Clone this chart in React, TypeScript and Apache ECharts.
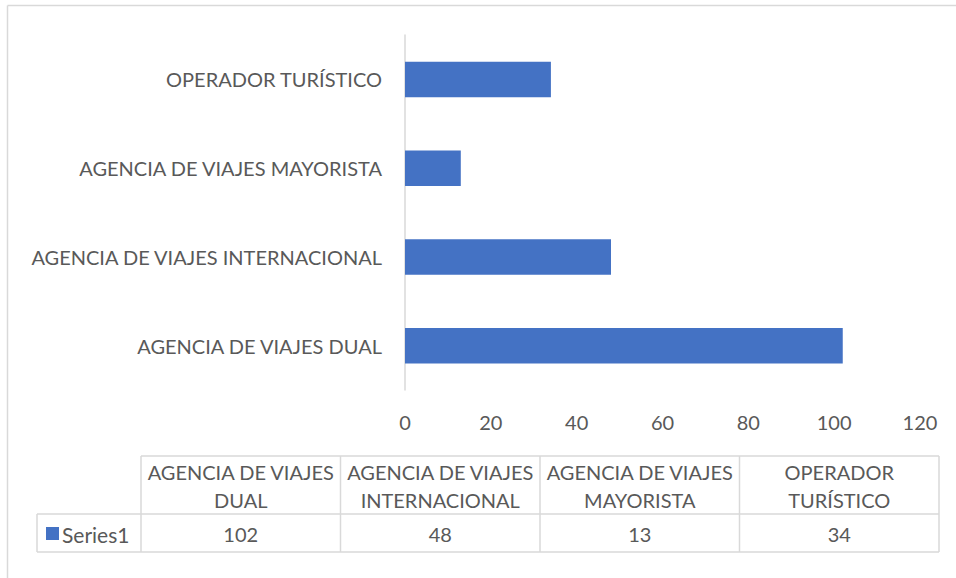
import React, { useEffect, useRef } from 'react';
import * as echarts from 'echarts';

const categories = [
  'AGENCIA DE VIAJES DUAL',
  'AGENCIA DE VIAJES INTERNACIONAL',
  'AGENCIA DE VIAJES MAYORISTA',
  'OPERADOR TURÍSTICO',
];
const values = [102, 48, 13, 34];
const seriesName = 'Series1';
const axisMin = 0;
const axisMax = 120;
const axisInterval = 20;

const FONT = 'Lato, "Noto Sans", sans-serif';
const TEXT = '#595959';
const LINE = '#d9d9d9';
const BAR = '#4472C4';
const FS = 20;

function wrapLast(s: string): string {
  const i = s.lastIndexOf(' ');
  return i < 0 ? s : s.slice(0, i) + '\n' + s.slice(i + 1);
}

export default function App() {
  const ref = useRef<HTMLDivElement>(null);
  useEffect(() => {
    document.body.style.margin = '0';
    const chart = echarts.init(ref.current!, null, { renderer: 'svg' });

    const tblLeft = 141;
    const tblRight = 939;
    const legLeft = 37;
    const yTop = 456;
    const yMid = 514;
    const yBot = 552;
    const colW = (tblRight - tblLeft) / categories.length;

    const g: any[] = [];
    const ln = (x1: number, y1: number, x2: number, y2: number) =>
      g.push({ type: 'line', shape: { x1, y1, x2, y2 }, style: { stroke: LINE, lineWidth: 1.5 }, silent: true });
    // outer chart border
    ln(7.5, 5.5, 956, 5.5);
    ln(7.5, 5.5, 7.5, 578);
    // table
    ln(tblLeft, yTop, tblRight, yTop);
    ln(legLeft, yMid, tblRight, yMid);
    ln(legLeft, yBot, tblRight, yBot);
    ln(legLeft, yMid, legLeft, yBot);
    for (let i = 0; i <= categories.length; i++) {
      const x = tblLeft + i * colW;
      ln(x, yTop, x, yBot);
    }
    categories.forEach((c, i) => {
      const cx = tblLeft + (i + 0.5) * colW;
      g.push({
        type: 'text', x: cx, y: (yTop + yMid) / 2 + 1,
        style: { text: wrapLast(c), fill: TEXT, font: `${FS}px ${FONT}`, align: 'center', verticalAlign: 'middle', lineHeight: 28 },
      });
      g.push({
        type: 'text', x: cx, y: (yMid + yBot) / 2 + 1,
        style: { text: String(values[i]), fill: TEXT, font: `${FS}px ${FONT}`, align: 'center', verticalAlign: 'middle' },
      });
    });
    g.push({ type: 'rect', shape: { x: 46, y: 527, width: 13, height: 13 }, style: { fill: BAR } });
    g.push({
      type: 'text', x: 62, y: (yMid + yBot) / 2 + 1,
      style: { text: seriesName, fill: TEXT, font: `21px ${FONT}`, align: 'left', verticalAlign: 'middle' },
    });

    chart.setOption({
      animation: false,
      backgroundColor: '#ffffff',
      grid: { left: 405, right: 36, top: 35, bottom: 188, containLabel: false },
      xAxis: {
        type: 'value',
        min: axisMin,
        max: axisMax,
        interval: axisInterval,
        axisLine: { show: false },
        axisTick: { show: false },
        splitLine: { show: false },
        axisLabel: { color: TEXT, fontSize: FS, fontFamily: FONT, margin: 22 },
      },
      yAxis: {
        type: 'category',
        data: categories,
        axisLine: { show: true, lineStyle: { color: LINE, width: 1.5 } },
        axisTick: { show: false },
        axisLabel: { color: TEXT, fontSize: FS, fontFamily: FONT, margin: 23 },
      },
      series: [
        {
          name: seriesName,
          type: 'bar',
          data: values,
          barCategoryGap: '60%',
          itemStyle: { color: BAR },
        },
      ],
      graphic: g,
    });
    return () => chart.dispose();
  }, []);
  return <div ref={ref} style={{ position: 'fixed', left: 0, top: 0, width: 956, height: 578 }} />;
}
